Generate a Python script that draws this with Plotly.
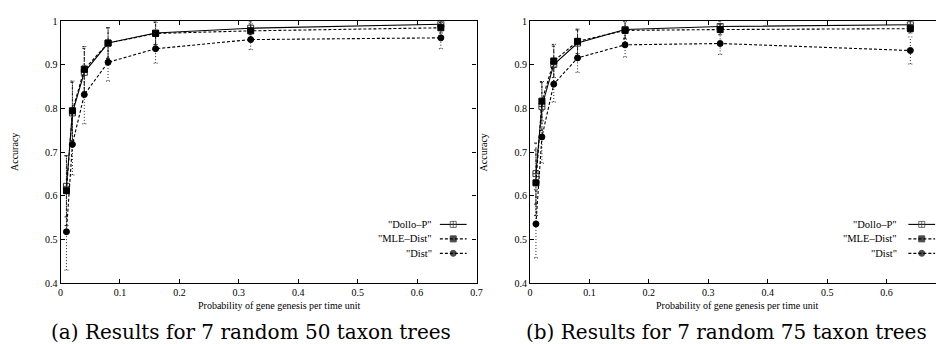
import plotly.graph_objects as go

W, H = 944, 344
x_vals = [0.01, 0.02, 0.04, 0.08, 0.16, 0.32, 0.64]

# Panel (a): 50 taxon trees
a_dollo = [0.622, 0.790, 0.883, 0.950, 0.973, 0.984, 0.993]
a_dollo_err = [0.070, 0.070, 0.055, 0.035, 0.027, 0.015, 0.010]
a_mle = [0.612, 0.795, 0.890, 0.950, 0.972, 0.978, 0.985]
a_mle_err = [0.080, 0.068, 0.052, 0.035, 0.025, 0.016, 0.012]
a_dist = [0.518, 0.718, 0.832, 0.906, 0.937, 0.958, 0.962]
a_dist_err = [0.088, 0.070, 0.067, 0.043, 0.033, 0.023, 0.025]

# Panel (b): 75 taxon trees
b_dollo = [0.651, 0.805, 0.901, 0.950, 0.981, 0.988, 0.992]
b_dollo_err = [0.070, 0.055, 0.042, 0.030, 0.020, 0.012, 0.008]
b_mle = [0.630, 0.817, 0.909, 0.954, 0.979, 0.981, 0.983]
b_mle_err = [0.075, 0.045, 0.038, 0.028, 0.020, 0.012, 0.010]
b_dist = [0.536, 0.735, 0.856, 0.916, 0.946, 0.949, 0.933]
b_dist_err = [0.078, 0.060, 0.041, 0.033, 0.028, 0.025, 0.031]

series_names = ['"Dollo\u2013P"', '"MLE\u2013Dist"', '"Dist"']
x_ticks = [0, 0.1, 0.2, 0.3, 0.4, 0.5, 0.6, 0.7]
y_ticks = [0.4, 0.5, 0.6, 0.7, 0.8, 0.9, 1.0]
y_ticktext = ["0.4", "0.5", "0.6", "0.7", "0.8", "0.9", "1"]
captions = ["(a) Results for 7 random 50 taxon trees", "(b) Results for 7 random 75 taxon trees"]
x_title = "Probability of gene genesis per time unit"
y_title = "Accuracy"

SERIF = "Liberation Serif"
CAPTION_FONT = "DejaVu Serif"
styles = [
    dict(dash="solid", symbol="square-cross-open", size=6, color="#333333", err_dash="dot"),
    dict(dash="3px,2px", symbol="square", size=6, color="#000000", err_dash="2px,1px"),
    dict(dash="3px,2px", symbol="circle", size=6, color="#000000", err_dash="1px,2px"),
]
CAP_HALF = 0.0033  # half-width of error-bar caps in x units

fig = go.Figure()

panels = [
    ("x", "y", [(a_dollo, a_dollo_err), (a_mle, a_mle_err), (a_dist, a_dist_err)]),
    ("x2", "y2", [(b_dollo, b_dollo_err), (b_mle, b_mle_err), (b_dist, b_dist_err)]),
]
for xa, ya, data in panels:
    for (vals, errs), st, name in zip(data, styles, series_names):
        # dotted gnuplot-style error bars built from the data
        ex, ey = [], []
        for xv, v, e in zip(x_vals, vals, errs):
            ex += [xv, xv, None, xv - CAP_HALF, xv + CAP_HALF, None,
                   xv - CAP_HALF, xv + CAP_HALF, None]
            ey += [v - e, v + e, None, v - e, v - e, None, v + e, v + e, None]
        fig.add_trace(go.Scatter(
            x=ex, y=ey, xaxis=xa, yaxis=ya, mode="lines", showlegend=False,
            hoverinfo="skip", line=dict(color="#222222", width=1, dash=st["err_dash"]),
        ))
    for (vals, errs), st, name in zip(data, styles, series_names):
        fig.add_trace(go.Scatter(
            x=x_vals, y=vals, xaxis=xa, yaxis=ya, mode="lines+markers", name=name,
            showlegend=False,
            line=dict(color="#000000", width=1.1, dash=st["dash"]),
            marker=dict(symbol=st["symbol"], size=st["size"], color=st["color"],
                        line=dict(width=1, color=st["color"])),
        ))

# Manual gnuplot-style legends (text left, sample right) on an overlay pixel axis
legend_rows = [218, 233, 248]
legend_cfg = [(427, 433, 460), (897, 906, 933)]
for text_right, l0, l1 in legend_cfg:
    for row, st, name in zip(legend_rows, styles, series_names):
        fig.add_trace(go.Scatter(
            x=[l0, (l0 + l1) / 2, l1], y=[row, row, row], xaxis="x3", yaxis="y3",
            mode="lines+markers", showlegend=False, hoverinfo="skip",
            line=dict(color="#000000", width=1.1, dash=st["dash"]),
            marker=dict(symbol=st["symbol"], size=[0, st["size"], 0], color=st["color"],
                        line=dict(width=1, color=st["color"])),
        ))
        fig.add_annotation(x=text_right / W, y=1 - row / H, xref="paper", yref="paper",
                           text=name, showarrow=False, xanchor="right", yanchor="middle",
                           font=dict(family=SERIF, size=10.5, color="#000"))

y_dom = [(H - 279) / H, (H - 7.5) / H]
axis_common = dict(showgrid=False, zeroline=False, showline=True, linecolor="#000",
                   linewidth=1.2, mirror="ticks", ticks="inside", ticklen=4,
                   tickcolor="#000", tickfont=dict(family=SERIF, size=10, color="#000"))
fig.update_layout(
    width=W, height=H, margin=dict(l=0, r=0, t=0, b=0),
    paper_bgcolor="white", plot_bgcolor="rgba(0,0,0,0)",
    xaxis=dict(domain=[50 / W, 470 / W], range=[0, 0.7], tickvals=x_ticks,
               anchor="y", **axis_common),
    yaxis=dict(domain=y_dom, range=[0.4, 1.0], tickvals=y_ticks, ticktext=y_ticktext,
               anchor="x", **axis_common),
    xaxis2=dict(domain=[524 / W, 1.0], range=[0, 0.7], tickvals=x_ticks,
                anchor="y2", **axis_common),
    yaxis2=dict(domain=y_dom, range=[0.4, 1.0], tickvals=y_ticks, ticktext=y_ticktext,
                anchor="x2", **axis_common),
    xaxis3=dict(domain=[0, 1], range=[0, W], visible=False, fixedrange=True, anchor="y3"),
    yaxis3=dict(domain=[0, 1], range=[H, 0], visible=False, fixedrange=True, anchor="x3"),
)

for cx in (271, 733):
    fig.add_annotation(x=cx / W, y=1 - 302 / H, xref="paper", yref="paper", text=x_title,
                       showarrow=False, xanchor="center", yanchor="middle",
                       font=dict(family=SERIF, size=10, color="#000"))
for cx in (3, 477):
    fig.add_annotation(x=cx / W, y=1 - 143 / H, xref="paper", yref="paper", text=y_title,
                       showarrow=False, textangle=-90, xanchor="center", yanchor="middle",
                       font=dict(family=SERIF, size=10, color="#000"))
for cx, cap in zip((242, 722), captions):
    fig.add_annotation(x=cx / W, y=1 - 330 / H, xref="paper", yref="paper", text=cap,
                       showarrow=False, xanchor="center", yanchor="middle",
                       font=dict(family=CAPTION_FONT, size=20, color="#000"))

fig.write_html("out.html")
